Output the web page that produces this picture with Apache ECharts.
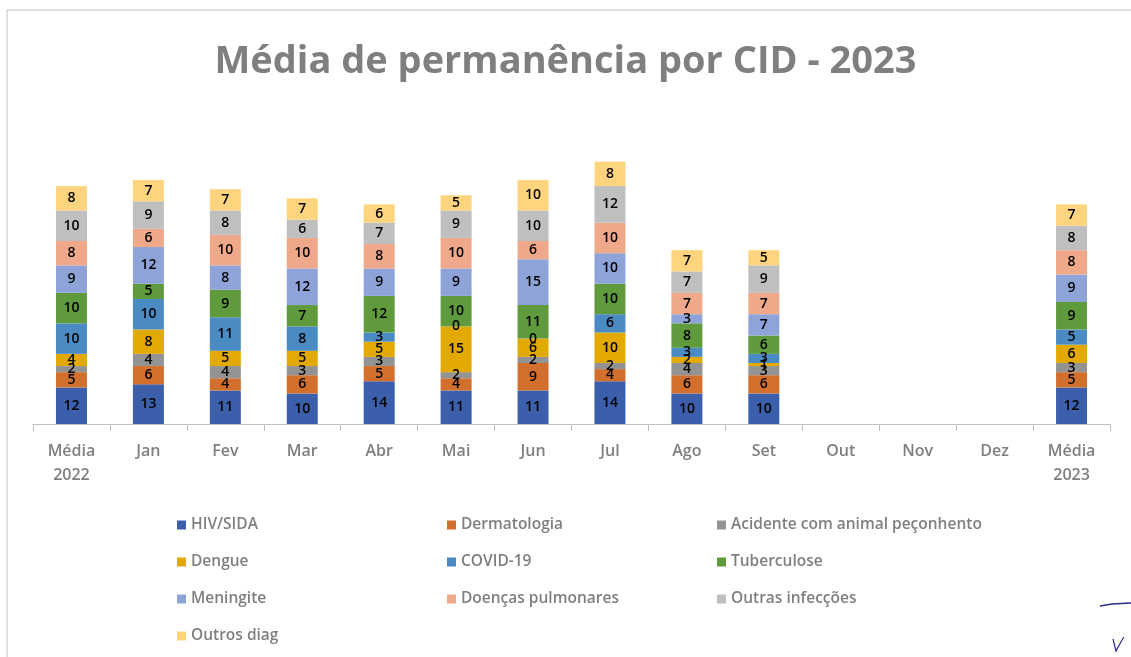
<!DOCTYPE html>
<html>
<head>
<meta charset="utf-8">
<script src="https://cdn.jsdelivr.net/npm/echarts@6/dist/echarts.min.js"></script>
<style>
  html, body { margin: 0; padding: 0; background: #fff; }
  #chart { width: 1131px; height: 657px; }
</style>
</head>
<body>
<div id="chart"></div>
<script>
// categorias do eixo x
var meses = ['Média\n2022', 'Jan', 'Fev', 'Mar', 'Abr', 'Mai', 'Jun', 'Jul', 'Ago', 'Set', 'Out', 'Nov', 'Dez', 'Média\n2023'];

// dias médios por CID (Out/Nov/Dez ainda sem dados)
var hivSida      = [12, 13, 11, 10, 14, 11, 11, 14, 10, 10, null, null, null, 12];
var dermatologia = [5, 6, 4, 6, 5, 4, 9, 4, 6, 6, null, null, null, 5];
var acidente     = [2, 4, 4, 3, 3, 2, 2, 2, 4, 3, null, null, null, 3];
var dengue       = [4, 8, 5, 5, 5, 15, 6, 10, 2, 1, null, null, null, 6];
var covid        = [10, 10, 11, 8, 3, 0, 0, 6, 3, 3, null, null, null, 5];
var tuberculose  = [10, 5, 9, 7, 12, 10, 11, 10, 8, 6, null, null, null, 9];
var meningite    = [9, 12, 8, 12, 9, 9, 15, 10, 3, 7, null, null, null, 9];
var pulmonares   = [8, 6, 10, 10, 8, 10, 6, 10, 7, 7, null, null, null, 8];
var outrasInf    = [10, 9, 8, 6, 7, 9, 10, 12, 7, 9, null, null, null, 8];
var outrosDiag   = [8, 7, 7, 7, 6, 5, 10, 8, 7, 5, null, null, null, 7];

var nomes = ['HIV/SIDA', 'Dermatologia', 'Acidente com animal peçonhento', 'Dengue', 'COVID-19',
  'Tuberculose', 'Meningite', 'Doenças pulmonares', 'Outras infecções', 'Outros diag'];
var dados = [hivSida, dermatologia, acidente, dengue, covid, tuberculose, meningite, pulmonares, outrasInf, outrosDiag];
var cores = ['#3b5fab', '#d36f2c', '#939393', '#e2aa00', '#4a8bc4', '#5f9a3c', '#8ea4d8', '#f0a88a', '#bfbfbf', '#ffd47f'];

var fonte = '"Open Sans", "Noto Sans", sans-serif';

var chart = echarts.init(document.getElementById('chart'));

var series = dados.map(function (d, i) {
  return {
    name: nomes[i],
    type: 'bar',
    stack: 'total',
    barWidth: 31,
    data: d,
    itemStyle: { color: cores[i] },
    label: {
      show: true,
      position: 'inside',
      color: '#000',
      fontFamily: fonte,
      fontSize: 14,
      fontWeight: 600
    }
  };
});

function legenda(left, itens) {
  return {
    orient: 'vertical',
    left: left,
    top: 512,
    itemWidth: 9,
    itemHeight: 9,
    itemGap: 21,
    icon: 'rect',
    data: itens,
    textStyle: { color: '#7f7f7f', fontFamily: fonte, fontSize: 15.5, fontWeight: 600 },
    selectedMode: false
  };
}

chart.setOption({
  animation: false,
  title: {
    text: 'Média de permanência por CID - 2023',
    left: 'center',
    top: 38,
    textStyle: { color: '#7f7f7f', fontFamily: fonte, fontSize: 38, fontWeight: 'bold' }
  },
  legend: [
    legenda(172, ['HIV/SIDA', 'Dengue', 'Meningite', 'Outros diag']),
    legenda(442, ['Dermatologia', 'COVID-19', 'Doenças pulmonares']),
    legenda(712, ['Acidente com animal peçonhento', 'Tuberculose', 'Outras infecções'])
  ],
  grid: { left: 33, right: 21, top: 119, bottom: 233 },
  xAxis: {
    type: 'category',
    data: meses,
    axisLine: { lineStyle: { color: '#bfbfbf' } },
    axisTick: { show: true, length: 7, lineStyle: { color: '#bfbfbf' } },
    axisLabel: {
      color: '#7f7f7f',
      fontFamily: fonte,
      fontSize: 16,
      fontWeight: 600,
      lineHeight: 24,
      margin: 15,
      interval: 0
    }
  },
  yAxis: { type: 'value', min: 0, max: 100, show: false, splitLine: { show: false } },
  series: series,
  graphic: [
    {
      type: 'rect',
      shape: { x: 7, y: 10, width: 1140, height: 700 },
      style: { fill: 'none', stroke: '#bfbfbf', lineWidth: 1 },
      silent: true
    },
    {
      type: 'polyline',
      shape: { points: [[1100, 606], [1112, 604], [1131, 603]] },
      style: { stroke: '#2a2a8a', lineWidth: 1.5, fill: 'none' },
      silent: true
    },
    {
      type: 'polyline',
      shape: { points: [[1113, 639], [1116, 651], [1122, 640], [1124, 637]] },
      style: { stroke: '#2a2a8a', lineWidth: 1.2, fill: 'none' },
      silent: true
    }
  ]
});
</script>
</body>
</html>
